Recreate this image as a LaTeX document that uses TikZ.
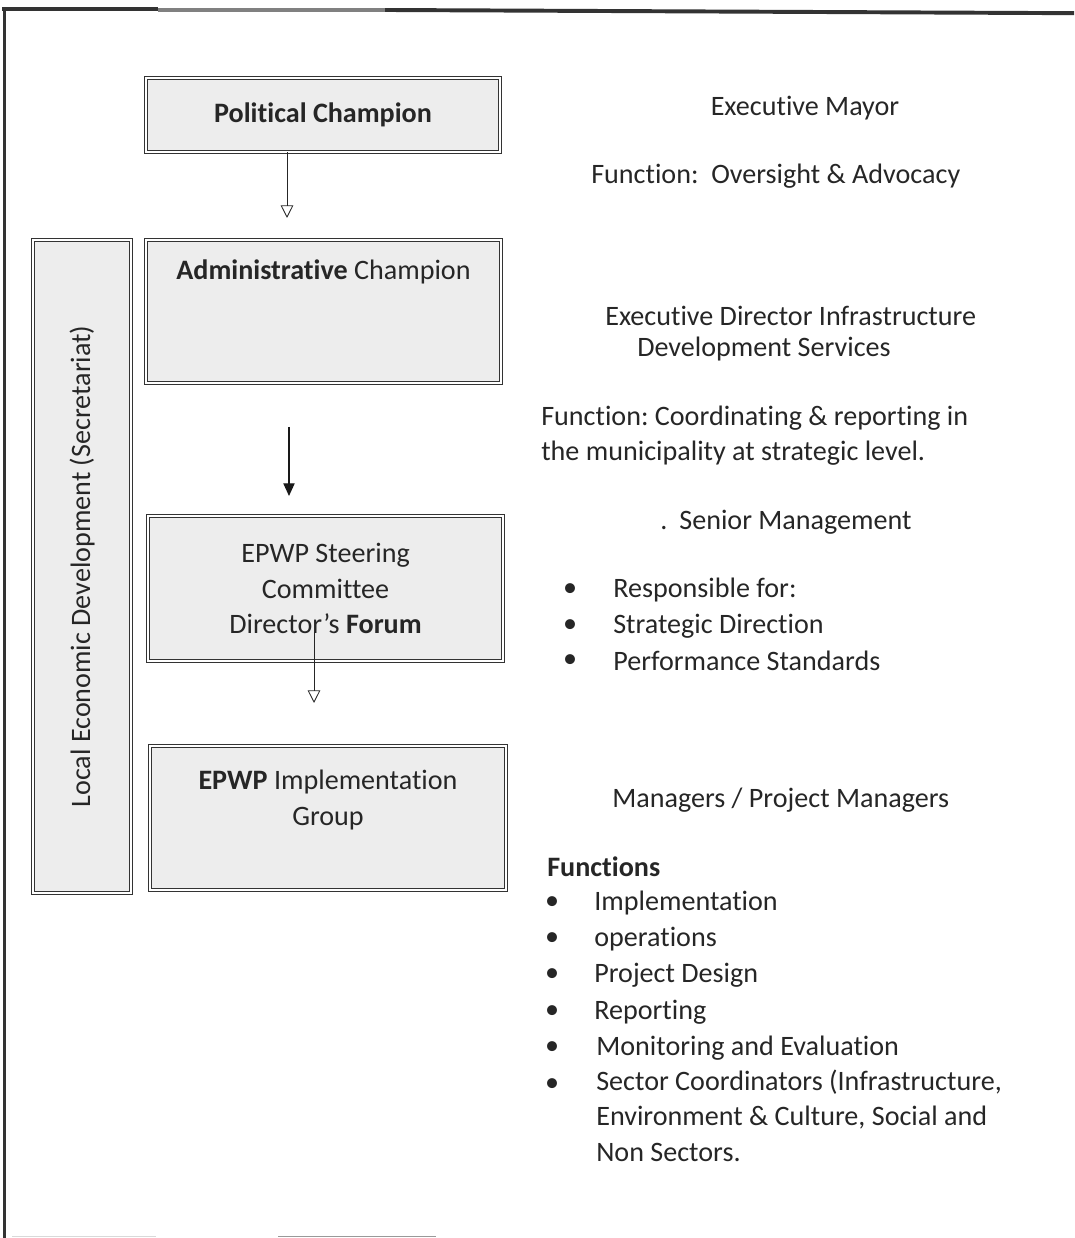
\documentclass[tikz,border=0pt]{standalone}
\usepackage{fontspec}
\setmainfont{Carlito}[Ligatures={TeX,NoCommon}]
\usetikzlibrary{arrows.meta}
\usetikzlibrary{positioning}
\frenchspacing

\newcommand{\chartfont}{\fontsize{20}{25}\selectfont}

\tikzset{
  chart/.style={draw=black!80,line width=0.6pt,double=white,double distance=1.6pt,fill=black!7,text=black!85,align=center},
  note/.style={text=black!85,inner sep=0pt,align=left},
  openarrow/.style={black!85,line width=0.6pt,-{Triangle[open,length=9pt,width=9pt]}},
  fullarrow/.style={black!90,line width=0.9pt,-{Triangle[length=9pt,width=8pt]}}
}

\begin{document}
\begin{tikzpicture}[font=\chartfont]
\useasboundingbox (0,0) rectangle (26.85,30.95);

% page frame
\draw[black!80,line width=2.5pt] (0.11,0) -- (0.11,30.72);
\draw[black!80,line width=2.8pt] (0.05,30.72) -- (3.95,30.72);
\draw[black!50,line width=2.2pt] (3.95,30.7) -- (9.63,30.7);
\draw[black!80,line width=2.8pt] (9.63,30.7) -- (26.85,30.62);
\draw[black!15,line width=0.6pt] (0.3,0.04) -- (3.9,0.04);
\draw[black!40,line width=0.6pt] (6.95,0.04) -- (10.9,0.04);

% boxes on the left
\node[chart,minimum width=8.85cm,minimum height=1.85cm] (pol) at (8.075,28.075) {\textbf{Political Champion}};
\node[chart,minimum width=8.875cm,minimum height=3.575cm] (adm) at (8.0875,23.1625) {};
\node[note,anchor=center] (admtext) at ([yshift=-0.8cm]adm.north) {\textbf{Administrative} Champion};
\node[chart,minimum width=8.875cm,minimum height=3.625cm] (stc) at (8.1375,16.2375) {EPWP Steering\\Committee\\Director's \textbf{Forum}};
\node[chart,minimum width=8.9cm,minimum height=3.6cm] (impl) at (8.2,10.5) {};
\node[note,align=center] (impltext) at ([yshift=0.45cm]impl.center) {\textbf{EPWP} Implementation\\Group};
\node[chart,rotate=90,minimum width=16.325cm,minimum height=2.45cm] (led) at (2.05,16.7875) {Local Economic Development (Secretariat)};

% arrows between the levels
\coordinate (a1) at (7.175,25.5);
\draw[openarrow] ([xshift=-0.9cm]pol.south) -- (a1);
\coordinate (a2s) at (7.225,20.275);
\coordinate (a2e) at (7.225,18.55);
\draw[fullarrow] (a2s) -- (a2e);
\coordinate (a3s) at (7.85,15.15);
\coordinate (a3e) at (7.85,13.375);
\draw[openarrow] (a3s) -- (a3e);

% roles and functions
\node[note] (mayor) at (20.125,28.25) {Executive Mayor};
\node[note,anchor=west] (mayorfn) at (14.775,26.55) {Function:\ \ Oversight \& Advocacy};
\node[note,anchor=west] (exdir) at (15.125,23.05) {Executive Director Infrastructure};
\node[note,anchor=west] (exdir2) at (15.925,22.225) {Development Services};
\node[note,anchor=west] (exdirfn) at (13.525,20.05) {Function: Coordinating \& reporting in\\the municipality at strategic level.};
\node[note,anchor=west] (senior) at (16.5,17.9) {.\hspace{0.3cm}Senior Management};

\node[note] (sb1) at (14.25,16.2) {\textbullet};
\node[note,anchor=west] (st1) at (15.325,16.2) {Responsible for:};
\node[note] (sb2) at (14.25,15.3) {\textbullet};
\node[note,anchor=west] (st2) at (15.325,15.3) {Strategic Direction};
\node[note] (sb3) at (14.25,14.425) {\textbullet};
\node[note,anchor=west] (st3) at (15.325,14.425) {Performance Standards};

\node[note,anchor=west] (mgr) at (15.3,10.95) {Managers / Project Managers};
\node[note,anchor=west] (fns) at (13.675,9.275) {\textbf{Functions}};
\node[note] (fb1) at (13.8,8.375) {\textbullet};
\node[note,anchor=west] (ft1) at (14.85,8.375) {Implementation};
\node[note] (fb2) at (13.8,7.475) {\textbullet};
\node[note,anchor=west] (ft2) at (14.85,7.475) {operations};
\node[note] (fb3) at (13.8,6.575) {\textbullet};
\node[note,anchor=west] (ft3) at (14.85,6.575) {Project Design};
\node[note] (fb4) at (13.8,5.65) {\textbullet};
\node[note,anchor=west] (ft4) at (14.85,5.65) {Reporting};
\node[note] (fb5) at (13.8,4.75) {\textbullet};
\node[note,anchor=west] (ft5) at (14.9,4.75) {Monitoring and Evaluation};
\node[note] (fb6) at (13.8,3.825) {\textbullet};
\node[note,anchor=north west] (ft6) at (14.9,4.2) {Sector Coordinators (Infrastructure,\\Environment \& Culture, Social and\\Non Sectors.};

\end{tikzpicture}
\end{document}
